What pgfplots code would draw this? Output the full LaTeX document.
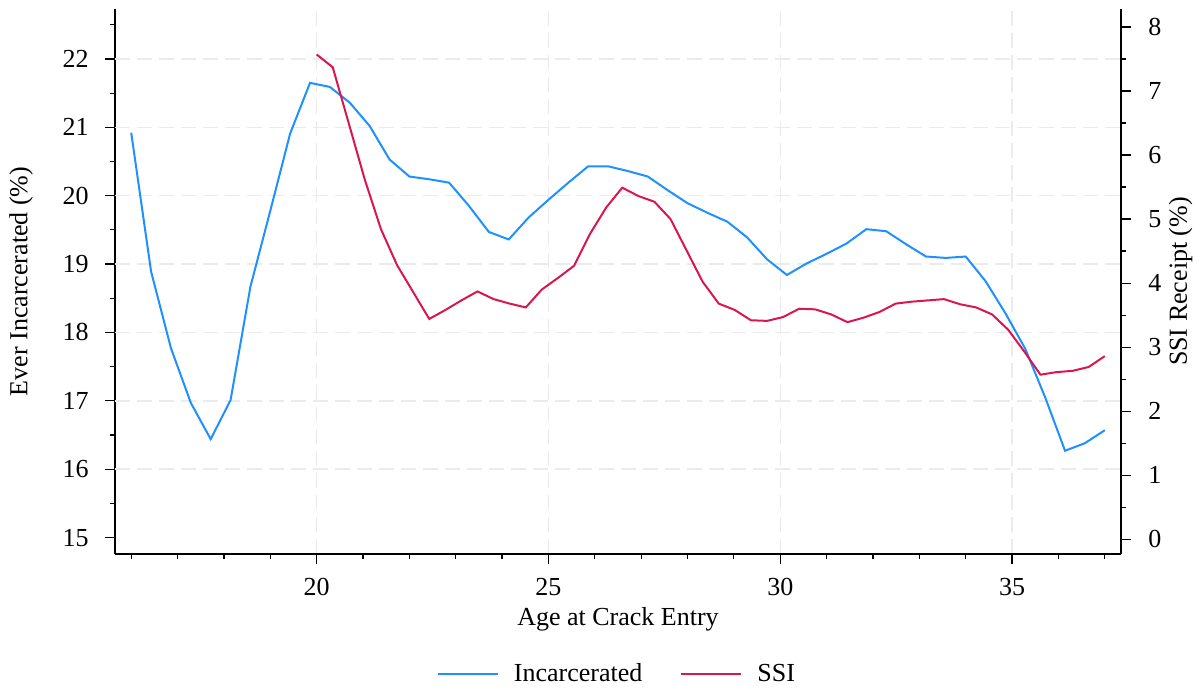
\documentclass[border=0pt]{standalone}
\usepackage{fontspec}
\setmainfont{Liberation Serif}
\usepackage{pgfplots}
\pgfplotsset{compat=1.18}
\definecolor{incblue}{RGB}{30,144,255}
\definecolor{ssired}{RGB}{218,22,82}
\definecolor{gridgray}{RGB}{235,235,235}
\newcommand{\ff}{\fontsize{13}{15.6}\selectfont}
\pgfplotsset{
  common/.style={
    scale only axis, width=503pt, height=272.5pt,
    at={(0,0)}, anchor=south west,
    xmin=15.65, xmax=37.35,
    tick align=outside,
    major tick length=5pt, minor tick length=2.5pt,
    every tick/.style={black, line width=0.6pt},
    axis line style={black, line width=0.8pt},
    tick label style={font=\ff, inner sep=0pt},
    label style={font=\ff},
    /pgf/number format/assume math mode=true,
    grid style={gridgray, line width=0.75pt, dash pattern=on 7.5pt off 3.5pt},
  }
}
\begin{document}
\begin{tikzpicture}
\path[use as bounding box] (-57.5pt,-68pt) rectangle (543pt,277pt);
\begin{axis}[common,
  axis x line*=bottom, axis y line*=left,
  ymin=14.76, ymax=22.73,
  xtick={20,25,30,35}, minor xtick={16,...,37},
  ytick={15,...,22}, minor ytick={15.5,16.5,...,22.5},
  xmajorgrids=true,
  extra y ticks={16,...,22}, extra y tick labels={},
  extra y tick style={grid=major, major tick length=0pt},
  xticklabel style={anchor=center, yshift=-11.5pt},
  yticklabel style={anchor=east, xshift=-8pt},
  xlabel={Age at Crack Entry},
  xlabel style={at={(axis description cs:0.5,-0.1321)}, anchor=base},
  ylabel={Ever Incarcerated (\%)},
  ylabel style={at={(axis description cs:-0.0934,0.5)}, anchor=center, rotate=0},
]
\addplot[incblue, line width=1pt] coordinates {
(16.0000,20.92) (16.4286,18.89) (16.8571,17.77) (17.2857,16.97) (17.7143,16.44)
(18.1429,17.01) (18.5714,18.67) (19.0000,19.78) (19.4286,20.91) (19.8571,21.65)
(20.2857,21.59) (20.7143,21.36) (21.1429,21.02) (21.5714,20.53) (22.0000,20.28)
(22.4286,20.24) (22.8571,20.19) (23.2857,19.85) (23.7143,19.47) (24.1429,19.36)
(24.5714,19.68) (25.0000,19.94) (25.4286,20.19) (25.8571,20.43) (26.2857,20.43)
(26.7143,20.36) (27.1429,20.28) (27.5714,20.08) (28.0000,19.89) (28.4286,19.75)
(28.8571,19.62) (29.2857,19.39) (29.7143,19.07) (30.1429,18.84) (30.5714,19.01)
(31.0000,19.15) (31.4286,19.30) (31.8571,19.51) (32.2857,19.48) (32.7143,19.29)
(33.1429,19.11) (33.5714,19.09) (34.0000,19.11) (34.4286,18.75) (34.8571,18.28)
(35.2857,17.76) (35.7143,17.05) (36.1429,16.27) (36.5714,16.38) (37.0000,16.57)
};
\end{axis}
\begin{axis}[common,
  axis x line=none, axis y line*=right,
  ymin=-0.23, ymax=8.28,
  ytick={0,...,8}, minor ytick={0.5,1.5,...,7.5},
  yticklabel style={anchor=west, xshift=8.5pt},
  ylabel={SSI Receipt (\%)},
  ylabel style={at={(axis description cs:1.0593,0.5)}, anchor=center, rotate=0},
  legend columns=2,
  legend style={at={(axis description cs:0.5,-0.2202)}, anchor=center,
    draw=none, fill=none, font=\ff,
    /tikz/every even column/.append style={column sep=17pt}},
  legend image code/.code={\draw[#1] (0pt,0pt) -- (30pt,0pt); \path (35.5pt,0pt);},
]
\addlegendimage{incblue, line width=1pt}
\addlegendentry{Incarcerated}
\addplot[ssired, line width=1pt] coordinates {
(20.0000,7.57) (20.3469,7.37) (20.6939,6.49) (21.0408,5.61) (21.3878,4.84)
(21.7347,4.28) (22.0816,3.86) (22.4286,3.44) (22.7755,3.58) (23.1224,3.73)
(23.4694,3.87) (23.8163,3.75) (24.1633,3.68) (24.5102,3.62) (24.8571,3.90)
(25.2041,4.08) (25.5510,4.27) (25.8980,4.77) (26.2449,5.18) (26.5918,5.49)
(26.9388,5.36) (27.2857,5.27) (27.6327,5.00) (27.9796,4.51) (28.3265,4.02)
(28.6735,3.68) (29.0204,3.58) (29.3673,3.42) (29.7143,3.41) (30.0612,3.47)
(30.4082,3.60) (30.7551,3.59) (31.1020,3.51) (31.4490,3.39) (31.7959,3.46)
(32.1429,3.55) (32.4898,3.68) (32.8367,3.71) (33.1837,3.73) (33.5306,3.75)
(33.8776,3.67) (34.2245,3.62) (34.5714,3.51) (34.9184,3.27) (35.2653,2.93)
(35.6122,2.57) (35.9592,2.61) (36.3061,2.63) (36.6531,2.69) (37.0000,2.86)
};
\addlegendentry{SSI}
\end{axis}
\end{tikzpicture}
\end{document}
